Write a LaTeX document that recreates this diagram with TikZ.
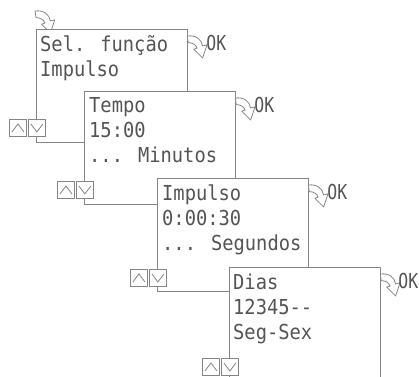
\documentclass[tikz,border=0pt]{standalone}
\usepackage{fontspec}
\newfontfamily\lcdfont[FakeStretch=0.91]{DejaVu Sans Mono}
\newfontfamily\okfont[FakeStretch=0.8]{DejaVu Sans Mono}
\usetikzlibrary{positioning, calc}
\definecolor{lcdgray}{gray}{0.33}
\definecolor{framegray}{gray}{0.52}

\begin{document}
\begin{tikzpicture}[
    x=1pt, y=-1pt,
    font=\lcdfont\fontsize{20.6pt}{25pt}\selectfont,
    node distance=1pt,
    screen/.style={draw=framegray, line width=1.2pt, fill=white, anchor=north west, minimum width=151pt, minimum height=113pt, inner sep=0pt},
    lcd/.style={text=lcdgray, align=left, anchor=north west, inner sep=0pt, execute at begin node=\strut},
    oktext/.style={text=lcdgray, anchor=base west, inner sep=0pt, font=\okfont\fontsize{20.6pt}{25pt}\selectfont},
    btn/.style={draw=framegray, line width=0.9pt, fill=white, minimum size=17pt, inner sep=0pt},
    upbtn/.style={btn, path picture={\draw[framegray, line width=0.8pt] ([xshift=2.5pt,yshift=4.5pt]path picture bounding box.south west) -- ([yshift=-4.5pt]path picture bounding box.north) -- ([xshift=-2.5pt,yshift=4.5pt]path picture bounding box.south east);}},
    dnbtn/.style={btn, path picture={\draw[framegray, line width=0.8pt] ([xshift=2.5pt,yshift=-4.5pt]path picture bounding box.north west) -- ([yshift=4.5pt]path picture bounding box.south) -- ([xshift=-2.5pt,yshift=-4.5pt]path picture bounding box.north east);}},
    okarrow/.pic={\draw[framegray, line width=0.8pt, fill=white, line join=round, scale=1.1] (0,0) .. controls (8,-1) and (13,3) .. (14,9) -- (18,8) -- (14,20) -- (6,12) -- (9,11) .. controls (8,8) and (5,6) .. (1,6) -- cycle;}
]
\useasboundingbox (0,0) rectangle (419,376);

% entry
\pic at (35,11) {okarrow};

% screen 1
\node[screen] (s1) at (36,29) {};
\node[lcd] (t1) at ([shift={(4,6.5)}]s1.north west) {Sel. função\\Impulso};
\node[upbtn, anchor=north west] (u1) at ([shift={(-27,90)}]s1.north west) {};
\node[dnbtn, right=of u1] (d1) {};
\pic at ([shift={(-1,7)}]s1.north east) {okarrow};
\node[oktext] (ok1) at ([shift={(18,21)}]s1.north east) {OK};

% screen 2
\node[screen] (s2) at (84,91) {};
\node[lcd] (t2) at ([shift={(5,6.5)}]s2.north west) {Tempo\\15:00\\... Minutos};
\node[upbtn, anchor=north west] (u2) at ([shift={(-27,90)}]s2.north west) {};
\node[dnbtn, right=of u2] (d2) {};
\pic at ([shift={(-1,7)}]s2.north east) {okarrow};
\node[oktext] (ok2) at ([shift={(18,21)}]s2.north east) {OK};

% screen 3
\node[screen] (s3) at (157,178) {};
\node[lcd] (t3) at ([shift={(5,6.5)}]s3.north west) {Impulso\\0:00:30\\... Segundos};
\node[upbtn, anchor=north west] (u3) at ([shift={(-27,91)}]s3.north west) {};
\node[dnbtn, right=of u3] (d3) {};
\pic at ([shift={(-1,7)}]s3.north east) {okarrow};
\node[oktext] (ok3) at ([shift={(18,21)}]s3.north east) {OK};

% screen 4
\node[screen] (s4) at (229,267) {};
\node[lcd] (t4) at ([shift={(4,6.5)}]s4.north west) {Dias\\12345-{}-\\Seg-Sex};
\node[upbtn, anchor=north west] (u4) at ([shift={(-27,91)}]s4.north west) {};
\node[dnbtn, right=of u4] (d4) {};
\pic at ([shift={(-1,7)}]s4.north east) {okarrow};
\node[oktext] (ok4) at ([shift={(17,21)}]s4.north east) {OK};
\end{tikzpicture}
\end{document}
